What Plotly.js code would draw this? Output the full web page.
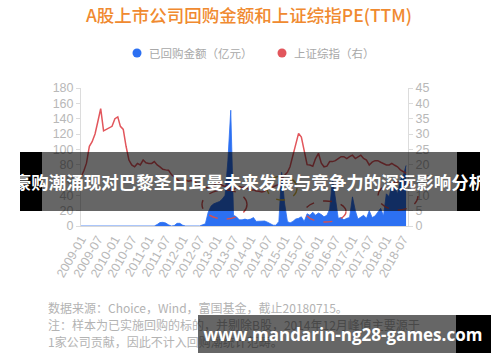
<!DOCTYPE html>
<html>
<head>
<meta charset="utf-8">
<script src="https://cdn.plot.ly/plotly-3.0.1.min.js"></script>
<style>
  html, body { margin: 0; padding: 0; background: #fff; }
  #wrap { position: relative; width: 500px; height: 362px; overflow: hidden; }
  #chart { position: absolute; left: 0; top: 0; width: 500px; height: 362px; }
  .note { position: absolute; left: 48px; font-family: "Noto Sans CJK SC", "Noto Sans", sans-serif; font-size: 12px; color: #b3b3b3; white-space: nowrap; line-height: 16px; }
  .box { position: absolute; }
  .btxt { position: absolute; color: #fff; font-weight: bold; white-space: nowrap; text-align: center; }
</style>
</head>
<body>
<div id="wrap">
  <div id="chart"></div>
  <div class="note" style="top:300px;">数据来源：Choice，Wind，富国基金，截止20180715。</div>
  <div class="note" style="top:317px;">注：样本为已实施回购的标的，并剔除B股，2014年12月峰值主要源于</div>
  <div class="note" style="top:334px;">1家公司贡献，因此不计入回购潮统计范畴。</div>

  <div class="box" style="left:20px;top:152px;width:22px;height:59px;background:#000;"></div>
  <div class="box" style="left:42px;top:152px;width:415px;height:59px;background:rgba(0,0,0,0.6);"></div>
  <div class="box" style="left:457px;top:152px;width:23px;height:59px;background:#000;"></div>
  <div class="btxt" style="left:10px;top:170px;width:480px;font-family:'Noto Sans CJK SC',sans-serif;font-size:17.5px;line-height:24px;">豪购潮涌现对巴黎圣日耳曼未来发展与竞争力的深远影响分析</div>

  <div class="box" style="left:198px;top:315px;width:258px;height:38px;background:rgba(0,0,0,0.6);"></div>
  <div class="box" style="left:456px;top:315px;width:35px;height:38px;background:#000;"></div>
  <div class="btxt" style="left:198px;top:323px;width:290px;font-family:'Open Sans','DejaVu Sans',sans-serif;font-size:17px;line-height:24px;">www.mandarin-ng28-games.com</div>
</div>
<script>
// ---- data ----
var startYear = 2009, startMonth = 1, nMonths = 116; // 2009-01 .. 2018-08
var months = [];
for (var i = 0; i < nMonths; i++) {
  var y = startYear + Math.floor((startMonth - 1 + i) / 12);
  var m = ((startMonth - 1 + i) % 12) + 1;
  months.push(y + '-' + (m < 10 ? '0' + m : m) + '-01');
}

// 已回购金额（亿元）, monthly
var buyback = [
  0,0,0,0,0,0,0,0,0,0,
  0,0,0,0,0,0,0,0,0,0,
  0,0,0,0,0,0,0,2,4.5,4.8,
  4,1.5,0,0.5,3.5,3.5,1,0,0,0,
  0,0,0,1.5,3,18,26,29,30,32,
  35,40,85,151,14,12,8,8,9,8,
  9,11,6,6,6,6.5,5,3,1,1,
  6,70,30,6,4,6,9,10,12,6,
  16,14,18,14,17,15,12,14,22,62,
  35,10,11,8,10,11,38,20,9,12,
  14,10,20,11,13,18,23,13,42,38,
  55,50,42,60,65,79
];

// 上证综指 PE(TTM)（右）, monthly
var pe = [
  16,18,20.5,26,27.5,30,34,38.3,31,31.5,
  32.2,32.5,35,35.6,32.5,31.5,26,21.5,19.9,19.3,
  20.4,19.9,21.5,20.6,20.4,20.4,21,19.9,19.3,18.5,
  18.3,18.2,16.8,16,15.3,14.5,14.2,15,14.6,14.8,
  14.6,13.8,13.2,12.8,12.6,12.4,11.8,13.2,14,14.2,
  13.2,12.9,13.4,11.8,11.9,12.6,12.9,12.6,12.8,12.2,
  11.6,11.8,11.4,11.3,11.1,11.3,12.2,12.3,12.8,13.2,
  13.5,15.5,16.5,17.5,19.3,23,27,30.2,29,24,
  20,19.9,19.5,22,23.7,20.5,19.3,19.5,21,21,
  21.3,22,22.6,22.6,22,22.6,23.1,22,22.5,23.1,
  22,21.5,19.9,20.8,21.3,21.3,20.8,20.4,19.9,19.9,
  20.4,19.8,19.3,18.3,17.7,17.2
];

var tickDates = ['2009-01-01','2009-07-01','2010-01-01','2010-07-01','2011-01-01','2011-07-01','2012-01-01','2012-07-01','2013-01-01','2013-07-01','2014-01-01','2014-07-01','2015-01-01','2015-07-01','2016-01-01','2016-07-01','2017-01-01','2017-07-01','2018-01-01','2018-07-01'];
var tickLabels = ['2009-01','2009-07','2010-01','2010-07','2011-01','2011-07','2012-01','2012-07','2013-01','2013-07','2014-01','2014-07','2015-01','2015-07','2016-01','2016-07','2017-01','2017-07','2018-01','2018-07'];
var leftTicks = [0,20,40,60,80,100,120,140,160,180];
var rightTicks = [0,5,10,15,20,25,30,35,40,45];
var seriesNames = ['已回购金额（亿元）', '上证综指（右）'];
var titleText = 'A股上市公司回购金额和上证综指PE(TTM)';

// ---- chart ----
var blue = 'rgb(44,112,242)';
var red = 'rgb(226,86,92)';
var tickFont = {family: 'Liberation Sans, Arial, sans-serif', size: 12.5, color: '#b8b8b8'};

var traces = [
  {x: months, y: buyback, type: 'scatter', mode: 'lines', fill: 'tozeroy', name: seriesNames[0],
   line: {color: blue, width: 0.8}, fillcolor: blue, showlegend: false, yaxis: 'y', hoverinfo: 'skip'},
  {x: months, y: pe, type: 'scatter', mode: 'lines', name: seriesNames[1],
   line: {color: red, width: 1.5}, showlegend: false, yaxis: 'y2', hoverinfo: 'skip'}
];

function px2x(p) { return (p - 81) / 327; }
function px2y(p) { return (226 - p) / 138; }
function ell(x0, x1, y0, y1, color) {
  return {type: 'circle', xref: 'paper', yref: 'paper',
    x0: px2x(x0), x1: px2x(x1), y0: px2y(y1), y1: px2y(y0),
    line: {color: color, width: 1.4, dash: 'dash'}, fillcolor: 'rgba(0,0,0,0)', layer: 'above'};
}
function dot(cx, cy, color) {
  return {type: 'circle', xref: 'paper', yref: 'paper', xsizemode: 'pixel', ysizemode: 'pixel',
    xanchor: px2x(cx), yanchor: px2y(cy), x0: -4.5, x1: 4.5, y0: -4.5, y1: 4.5,
    fillcolor: color, line: {width: 0}};
}
var dashRed = 'rgb(214,80,80)';
var dashYellow = 'rgb(214,178,60)';
var legendFont = {family: 'Noto Sans CJK SC, sans-serif', size: 11.5, color: '#a8a8a8'};

var layout = {
  width: 500, height: 362,
  margin: {l: 81, r: 92, t: 88, b: 136},
  paper_bgcolor: '#fff', plot_bgcolor: '#fff',
  title: {text: titleText, x: 0.498, xref: 'container', y: 1 - 16/362, yref: 'container', yanchor: 'middle', xanchor: 'center',
          font: {family: 'Noto Sans CJK SC, sans-serif', size: 17.5, color: 'rgb(240,138,48)', weight: 500}},
  showlegend: false,
  xaxis: {type: 'date', range: ['2009-01-01', '2018-08-22'], tickmode: 'array', tickvals: tickDates, ticktext: tickLabels,
          tickangle: -60, tickfont: tickFont, showgrid: false, zeroline: false, showline: true, linecolor: '#d8d8d8', linewidth: 1,
          ticks: '', fixedrange: true},
  yaxis: {range: [0, 180], tickmode: 'array', tickvals: leftTicks, tickfont: tickFont, showgrid: false, zeroline: false,
          showline: true, linecolor: '#dcdcdc', ticks: 'outside', ticklen: 4, tickcolor: '#dcdcdc'},
  yaxis2: {range: [0, 45], tickmode: 'array', tickvals: rightTicks, tickfont: tickFont, showgrid: false, zeroline: false,
           showline: true, linecolor: '#dcdcdc', ticks: 'outside', ticklen: 4, tickcolor: '#dcdcdc', overlaying: 'y', side: 'right'},
  annotations: [
    {text: seriesNames[0], xref: 'paper', yref: 'paper', x: px2x(147), y: px2y(53), xanchor: 'left', yanchor: 'middle',
     showarrow: false, font: legendFont},
    {text: seriesNames[1], xref: 'paper', yref: 'paper', x: px2x(292), y: px2y(53), xanchor: 'left', yanchor: 'middle',
     showarrow: false, font: legendFont}
  ],
  shapes: [
    dot(137, 53, blue),
    dot(282, 53, red),
    ell(202, 247, 190, 219, dashRed),
    ell(305, 346, 201, 222, dashRed),
    ell(378, 418, 182, 210, dashRed),
    ell(267, 297, 176, 200, dashYellow)
  ]
};

Plotly.newPlot('chart', traces, layout, {staticPlot: true, displayModeBar: false});
</script>
</body>
</html>
